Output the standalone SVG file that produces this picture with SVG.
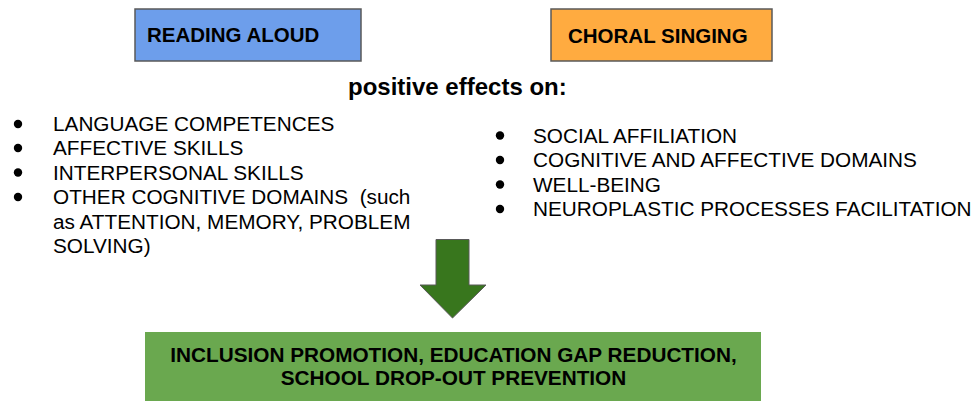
<svg xmlns="http://www.w3.org/2000/svg" width="975" height="401" viewBox="0 0 975 401">
<style>
text { font-family: "Liberation Sans", Arial, sans-serif; fill: #000; white-space: pre; }
.b { font-weight: bold; }
.t { font-size: 20.5px; }
.r { font-size: 20.75px; }
.h { font-size: 24px; }
.box { stroke: #595959; stroke-width: 1.5; }
.dot { fill: #000; }
</style>
<rect width="975" height="401" fill="#fff"/>
<g id="reading-aloud">
<rect class="box" x="135" y="9" width="226" height="52" fill="#6d9eeb"/>
<text class="b t" x="147" y="42">READING ALOUD</text>
</g>
<g id="choral-singing">
<rect class="box" x="551" y="9" width="221" height="52" fill="#ffab40"/>
<text class="b t" x="568" y="42.5">CHORAL SINGING</text>
</g>
<g id="positive-effects">
<text class="b h" x="348" y="95">positive effects on:</text>
</g>
<g id="reading-effects">
<circle class="dot" cx="18" cy="124" r="4.2"/>
<circle class="dot" cx="18" cy="148" r="4.2"/>
<circle class="dot" cx="18" cy="172.5" r="4.2"/>
<circle class="dot" cx="18" cy="197" r="4.2"/>
<text class="r" x="53" y="131">LANGUAGE COMPETENCES</text>
<text class="r" x="53" y="155">AFFECTIVE SKILLS</text>
<text class="r" x="53" y="179.5">INTERPERSONAL SKILLS</text>
<text class="r" x="53" y="204" xml:space="preserve">OTHER COGNITIVE DOMAINS  (such</text>
<text class="r" x="53" y="228.5">as ATTENTION, MEMORY, PROBLEM</text>
<text class="r" x="53" y="253">SOLVING)</text>
</g>
<g id="singing-effects">
<circle class="dot" cx="500" cy="135.5" r="4.2"/>
<circle class="dot" cx="500" cy="160" r="4.2"/>
<circle class="dot" cx="500" cy="184.5" r="4.2"/>
<circle class="dot" cx="500" cy="209" r="4.2"/>
<text class="r" x="533" y="142.5">SOCIAL AFFILIATION</text>
<text class="r" x="533" y="167">COGNITIVE AND AFFECTIVE DOMAINS</text>
<text class="r" x="533" y="191.5">WELL-BEING</text>
<text class="r" x="533" y="216">NEUROPLASTIC PROCESSES FACILITATION</text>
</g>
<g id="connectors">
<polygon points="436,239.5 469,239.5 469,285 486,285 452.5,318 420,285 436,285" fill="#38761d" stroke="#595959" stroke-width="1"/>
</g>
<g id="outcome">
<rect x="145" y="332" width="616" height="69" fill="#6aa84f"/>
<text class="b r" x="453.5" y="361.5" text-anchor="middle">INCLUSION PROMOTION, EDUCATION GAP REDUCTION,</text>
<text class="b r" x="453.5" y="385" text-anchor="middle">SCHOOL DROP-OUT PREVENTION</text>
</g>
</svg>
